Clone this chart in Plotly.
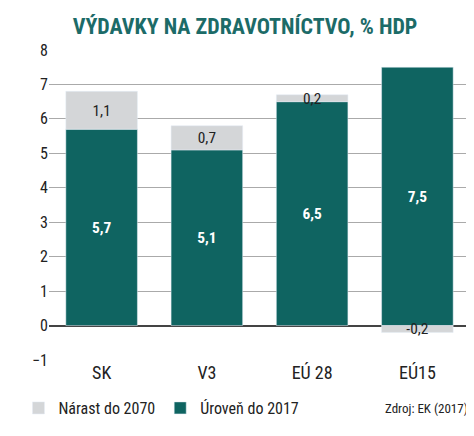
import plotly.graph_objects as go

categories = ["SK", "V3", "EÚ 28", "EÚ15"]
level_2017 = [5.7, 5.1, 6.5, 7.5]
increase_2070 = [1.1, 0.7, 0.2, -0.2]

teal = "#0f6461"
grey = "#d4d6d8"

fig = go.Figure()
fig.add_bar(x=categories, y=level_2017, name="Úroveň do 2017", marker_color=teal,
            text=[f"<b>{v:.1f}</b>".replace(".", ",") for v in level_2017], textposition="inside",
            insidetextanchor="middle", textfont=dict(color="white", size=18), width=0.68)
fig.add_bar(x=categories, y=increase_2070, name="Nárast do 2070", marker_color=grey,
            text=[f"{v:.1f}".replace(".", ",") for v in increase_2070], textposition="inside",
            insidetextanchor="middle", textfont=dict(color="#222", size=17), width=0.68)

fig.update_layout(
    barmode="relative", width=474, height=436, plot_bgcolor="white", paper_bgcolor="white",
    font=dict(family="Roboto Condensed, Roboto, Liberation Sans Narrow, sans-serif", size=16, color="#222"),
    margin=dict(l=40, r=12, t=42, b=84),
    title=dict(text="<b>VÝDAVKY NA ZDRAVOTNÍCTVO, % HDP</b>", x=0.5, xanchor="center", y=0.975,
               font=dict(size=22, color="#1c6b68")),
    uniformtext=dict(minsize=8, mode="show"),
    legend=dict(orientation="h", x=-0.07, y=-0.1, xanchor="left", yanchor="top",
                traceorder="reversed", font=dict(size=16)),
    annotations=[dict(text="Zdroj: EK (2017)", x=1.0, y=-0.125, xref="paper", yref="paper",
                      xanchor="right", yanchor="top", showarrow=False, font=dict(size=13))],
)
fig.update_yaxes(range=[-1, 8], dtick=1, showgrid=True, gridcolor="#aaa", gridwidth=1,
                 zeroline=True, zerolinecolor="#444", zerolinewidth=1.5, ticks="", tickfont=dict(size=16))
fig.update_xaxes(tickfont=dict(size=18), showline=False)
fig.write_html("out.html")
